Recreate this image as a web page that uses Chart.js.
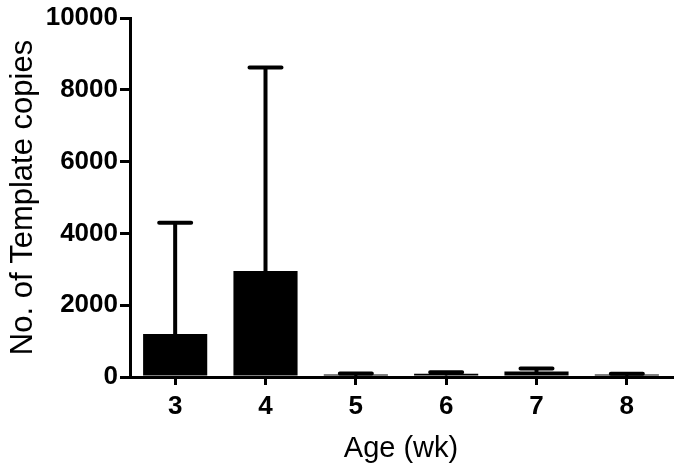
<!DOCTYPE html>
<html>
<head>
<meta charset="utf-8">
<script src="https://cdn.jsdelivr.net/npm/chart.js@4"></script>
<style>
html,body{margin:0;padding:0;background:#fff;}
#wrap{width:683px;height:470px;position:relative;}
</style>
</head>
<body>
<div id="wrap"><canvas id="c" width="683" height="470"></canvas></div>
<script>
const categories = ['3', '4', '5', '6', '7', '8'];
const means = [1200, 2950, 70, 90, 150, 70];
const errorsUp = [3100, 5670, 30, 40, 90, 20];
const yTicks = [0, 2000, 4000, 6000, 8000, 10000];

const errorBarPlugin = {
  id: 'errorBars',
  afterDatasetsDraw(chart) {
    const ctx = chart.ctx;
    const meta = chart.getDatasetMeta(0);
    const y = chart.scales.y;
    ctx.save();
    ctx.strokeStyle = '#000';
    ctx.lineWidth = 4;
    ctx.lineCap = 'round';
    meta.data.forEach((bar, i) => {
      const x = bar.x;
      const yb = y.getPixelForValue(means[i]);
      const yt = y.getPixelForValue(means[i] + errorsUp[i]);
      ctx.beginPath();
      ctx.moveTo(x, yb);
      ctx.lineTo(x, yt);
      ctx.moveTo(x - 16, yt);
      ctx.lineTo(x + 16, yt);
      ctx.stroke();
    });
    ctx.restore();
  }
};

new Chart(document.getElementById('c'), {
  type: 'bar',
  data: {
    labels: categories,
    datasets: [{
      data: means,
      backgroundColor: '#000',
      borderWidth: 0,
      categoryPercentage: 1,
      barPercentage: 0.71
    }]
  },
  options: {
    responsive: false,
    animation: false,
    devicePixelRatio: 1,
    layout: { padding: { left: 0, right: 11, top: 18, bottom: 0 } },
    plugins: { legend: { display: false }, tooltip: { enabled: false } },
    scales: {
      x: {
        grid: { display: true, drawOnChartArea: false, drawTicks: true, tickLength: 8, lineWidth: 3, color: '#000', offset: false },
        border: { display: true, width: 3, color: '#000' },
        ticks: { color: '#000', padding: 6, font: { family: 'Liberation Sans, Arial, sans-serif', size: 26, weight: 'bold' } },
        title: { display: true, text: 'Age (wk)', color: '#000', padding: { top: 4 }, font: { family: 'Liberation Sans, Arial, sans-serif', size: 29 } },
        afterFit(s) { s.height = 93; }
      },
      y: {
        min: 0, max: 10000,
        afterBuildTicks(s) { s.ticks = yTicks.map(v => ({ value: v })); },
        grid: { display: true, drawOnChartArea: false, drawTicks: true, tickLength: 10, lineWidth: 3, color: '#000' },
        border: { display: true, width: 3, color: '#000' },
        ticks: { color: '#000', padding: 2, callback: v => String(v), font: { family: 'Liberation Sans, Arial, sans-serif', size: 26, weight: 'bold' } },
        title: { display: true, text: 'No. of Template copies', color: '#000', padding: { top: 5, bottom: 0 }, font: { family: 'Liberation Sans, Arial, sans-serif', size: 31 } },
        afterFit(s) { s.width = 130; }
      }
    }
  },
  plugins: [errorBarPlugin]
});
</script>
</body>
</html>
